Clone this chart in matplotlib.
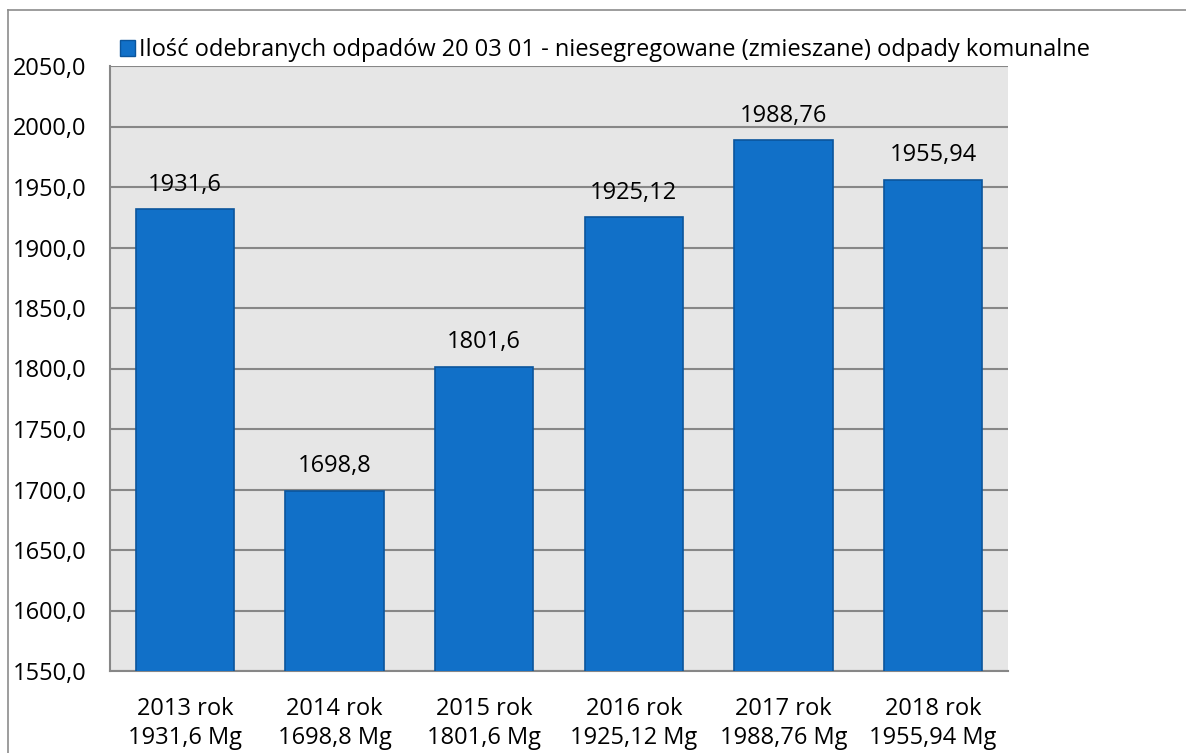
import matplotlib.pyplot as plt
from matplotlib.lines import Line2D
from matplotlib.patches import Patch

# data
years = ["2013", "2014", "2015", "2016", "2017", "2018"]
values = [1931.6, 1698.8, 1801.6, 1925.12, 1988.76, 1955.94]
value_labels = ["1931,6", "1698,8", "1801,6", "1925,12", "1988,76", "1955,94"]
y_ticks = [1550, 1600, 1650, 1700, 1750, 1800, 1850, 1900, 1950, 2000, 2050]
legend_label = "Ilość odebranych odpadów 20 03 01 - niesegregowane (zmieszane) odpady komunalne"

plt.rcParams['font.family'] = ['Open Sans', 'DejaVu Sans']
fs = 17

W, H = 1186, 753
fig = plt.figure(figsize=(W / 100, H / 100), dpi=100)
ax = fig.add_axes([110 / W, 1 - 671 / H, (1008 - 110) / W, (671 - 66) / H])
ax.set_facecolor('#E6E6E6')

bar_color = '#1170C8'
x = range(len(years))
ax.bar(x, values, width=0.655, color=bar_color, edgecolor='#0B559C', linewidth=1.2, zorder=3)

for i, (v, lab) in enumerate(zip(values, value_labels)):
    ax.annotate(lab, (i, v), xytext=(0, 9), textcoords='offset points',
                ha='center', va='bottom', fontsize=fs)

ax.set_xlim(-0.5, 5.5)
ax.set_ylim(1550, 2050)
ax.set_yticks(y_ticks)
ax.set_yticklabels([f"{t:.1f}".replace(".", ",") for t in y_ticks], fontsize=fs)
ax.set_xticks(list(x))
ax.set_xticklabels([f"{y} rok\n{lab} Mg" for y, lab in zip(years, value_labels)], fontsize=fs,
                   linespacing=1.25)
ax.tick_params(axis='y', length=0, pad=17)
ax.tick_params(axis='x', length=0, pad=19)

ax.grid(axis='y', color='#878787', linewidth=1.5, zorder=1)
ax.set_axisbelow(True)
for s in ['top', 'right']:
    ax.spines[s].set_visible(False)
for s in ['left', 'bottom']:
    ax.spines[s].set_color('#878787')
    ax.spines[s].set_linewidth(1.5)

handle = Patch(facecolor=bar_color, edgecolor='#0B559C')
fig.legend([handle], [legend_label], loc='center left', bbox_to_anchor=(120 / W, 1 - 50 / H),
           frameon=False, fontsize=fs, handlelength=0.65, handleheight=0.65, handletextpad=0.15,
           borderaxespad=0, borderpad=0)

# outer chart border
fig.add_artist(Line2D([7.5 / W, 7.5 / W], [0, 1 - 9.5 / H], color='#8C8C8C', linewidth=1.2))
fig.add_artist(Line2D([7.5 / W, 1], [1 - 9.5 / H, 1 - 9.5 / H], color='#8C8C8C', linewidth=1.2))

fig.savefig('out.png', dpi=100)
